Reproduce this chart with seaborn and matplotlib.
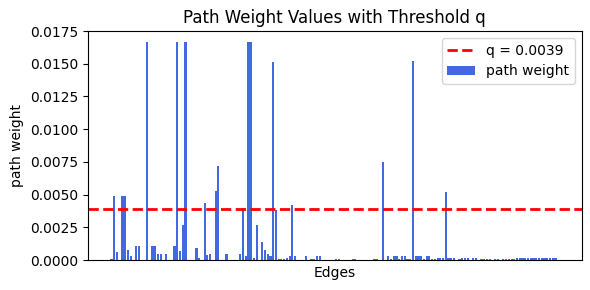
import numpy as np
import pandas as pd
import matplotlib
matplotlib.use("Agg")
import matplotlib.pyplot as plt
import seaborn as sns

# path weight per edge (164 edges)
path_weight = [
    0.0001, 0.0049, 0.0006, 0.0, 0.0049, 0.0049, 0.0008, 0.0003, 0.0, 0.0011,
    0.0011, 0.0, 0.0, 0.0167, 0.0, 0.0011, 0.0011, 0.0005, 0.0005, 0.0,
    0.0005, 0.0, 0.0, 0.0011, 0.0167, 0.0007, 0.0027, 0.0167, 0.0, 0.0,
    0.0, 0.0009, 0.0002, 0.0, 0.0044, 0.0004, 0.0005, 0.0, 0.0053, 0.0072,
    0.0, 0.0, 0.0005, 0.0, 0.0, 0.0, 0.0, 0.0005, 0.0040, 0.0003,
    0.0167, 0.0167, 0.0002, 0.0027, 0.0, 0.0014, 0.0008, 0.0005, 0.0003, 0.0151,
    0.0038, 0.0001, 0.0001, 0.0001, 0.0002, 0.0003, 0.0042, 0.0003, 0.0, 0.0,
    0.0, 0.0003, 0.0, 0.0001, 0.0001, 0.0003, 0.0003, 0.0, 0.0, 0.0,
    0.0, 0.0, 0.0001, 0.0001, 0.0, 0.0, 0.0, 0.0, 0.0001, 0.0001,
    0.0, 0.0, 0.0, 0.0, 0.0, 0.0, 0.0001, 0.0001, 0.0, 0.0075,
    0.0, 0.0003, 0.0001, 0.0003, 0.0003, 0.0001, 0.0003, 0.0003, 0.0001, 0.0001,
    0.0152, 0.0003, 0.0003, 0.0003, 0.0001, 0.0003, 0.0003, 0.0001, 0.0001, 0.0002,
    0.0002, 0.0002, 0.0052, 0.0002, 0.0002, 0.0002, 0.0, 0.0001, 0.0002, 0.0002,
    0.0002, 0.0, 0.0002, 0.0002, 0.0, 0.0001, 0.0001, 0.0001, 0.0001, 0.0,
    0.0001, 0.0001, 0.0, 0.0001, 0.0001, 0.0001, 0.0001, 0.0001, 0.0002, 0.0002,
    0.0002, 0.0002, 0.0002, 0.0002, 0.0002, 0.0002, 0.0002, 0.0002, 0.0002, 0.0002,
    0.0002, 0.0002, 0.0002, 0.0,
]
edges = [f"e{i}" for i in range(len(path_weight))]
q = 0.0039

df = pd.DataFrame({"edge": edges, "weight": path_weight})

fig, ax = plt.subplots(figsize=(5.9, 2.9), dpi=100)

sns.barplot(data=df, x="edge", y="weight", color="royalblue", saturation=1,
            width=0.8, linewidth=0, label="path weight", ax=ax)
ax.axhline(q, color="red", linestyle="--", linewidth=2, label=f"q = {q}")

# same side padding as a plain plt.bar call
n = len(path_weight)
m = 0.05 * (n - 0.2)
ax.set_xlim(-0.4 - m, n - 0.6 + m)
ax.set_ylim(0, 0.0175)
ax.set_yticks(np.arange(0, 0.0176, 0.0025))
ax.yaxis.set_major_formatter(matplotlib.ticker.FormatStrFormatter("%.4f"))
ax.set_xticks([])

ax.set_title("Path Weight Values with Threshold q")
ax.set_xlabel("Edges")
ax.set_ylabel("path weight")
ax.legend(loc="upper right")

plt.subplots_adjust(left=0.149, right=0.986, top=0.893, bottom=0.103)
plt.savefig("out.png", dpi=100)
